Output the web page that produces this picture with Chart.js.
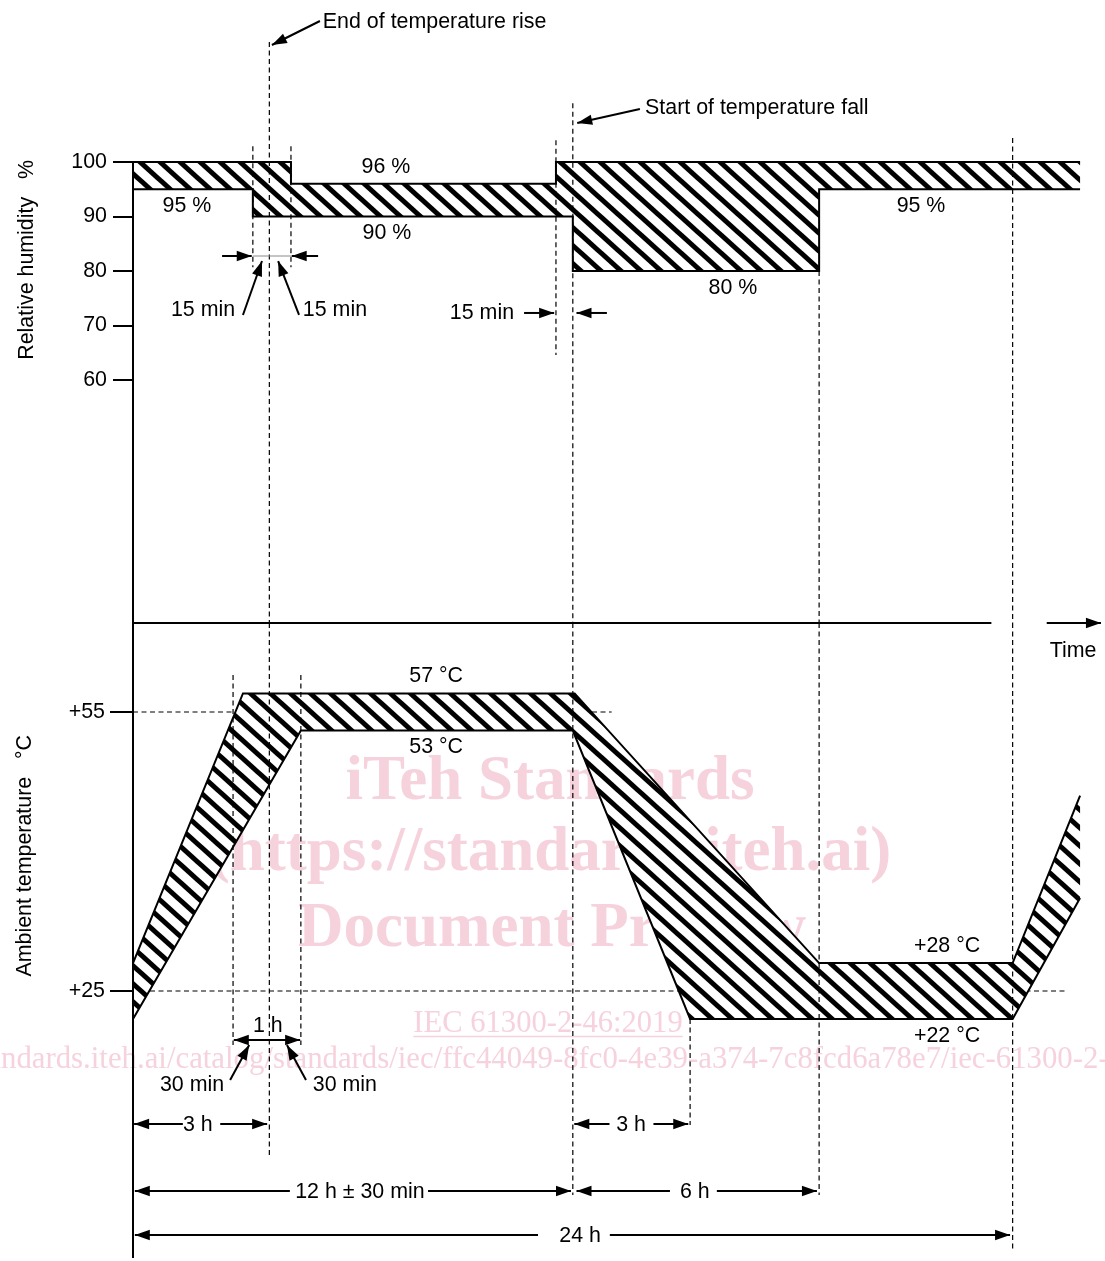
<!DOCTYPE html>
<html>
<head>
<meta charset="utf-8">
<title>Damp heat cycle</title>
<script src="https://cdn.jsdelivr.net/npm/chart.js@4.4.1/dist/chart.umd.min.js"></script>
<style>
  html, body { margin: 0; padding: 0; background: #fff; }
  canvas { display: block; }
</style>
</head>
<body>
<canvas id="cycle" width="1105" height="1261"></canvas>
<script>
// ---- axes -------------------------------------------------------------
const HOURS_MAX = 26.52;                 // time axis, hours
const RH_RANGE = [15.413, 129.725];      // relative humidity panel, %
const TEMP_RANGE = [-4.03, 64.57];       // temperature panel, °C
const RH_TICKS = [60, 70, 80, 90, 100];
const TEMP_TICKS = [25, 55];

// ---- tolerance bands [hour, value] -------------------------------------
const RH_UPPER = [[0, 100], [4.31, 100], [4.31, 96], [11.54, 96], [11.54, 100], [25.84, 100]];
const RH_LOWER = [[0, 95], [3.27, 95], [3.27, 90], [12, 90], [12, 80], [18.72, 80], [18.72, 95], [25.84, 95]];
const TEMP_UPPER = [[0, 28], [3, 57], [12.05, 57], [18.72, 28], [24, 28], [25.84, 46]];
const TEMP_LOWER = [[0, 22], [4.58, 53], [12, 53], [15.2, 22], [24, 22], [25.84, 35]];

// value labels on the bands: [value, hour, side (-1 above / +1 below)]
const RH_VALUE_LABELS = [[96, 6.9, -1], [95, 1.47, 1], [90, 6.93, 1], [80, 16.37, 1], [95, 21.5, 1]];
const TEMP_VALUE_LABELS = [[57, 8.27, -1], [53, 8.27, 1], [28, 22.21, -1], [22, 22.21, 1]];

// ---- dashed guide lines: [hour, from, to] ------------------------------
const RH_GUIDES = [[3.27, 102.9, 80.7], [4.31, 102.9, 80.7], [3.72, 122.0, 15.413],
                   [11.54, 104.0, 64.6], [12, 110.8, 15.413], [18.72, 80, 15.413], [24, 104.4, 15.413]];
const TEMP_GUIDES = [[3.72, 64.57, 7.37], [12, 64.57, 3.06], [18.72, 64.57, 3.06], [24, 64.57, -2.85],
                     [2.73, 58.98, 19.19], [4.58, 58.98, 19.19], [15.2, 22, 10.6]];
// horizontal reference levels: [value, from hour, to hour]
const TEMP_LEVELS = [[55, 0, 13.06], [25, 0, 25.51]];

// ---- axis lines --------------------------------------------------------
const RH_AXIS = [[0, 100], [0, 15.413]];
const TEMP_AXIS = [[0, 64.57], [0, -3.71]];
const TIME_LINE = [[0, 15.413], [23.42, 15.413]];

// ---- arrows: points in data units, head at 'end' or 'both' --------------
const RH_ARROWS = [
  [[[2.43, 82.75], [3.24, 82.75]], 'end'],
  [[[5.05, 82.75], [4.33, 82.75]], 'end'],
  [[[3.0, 71.93], [3.52, 81.83]], 'end'],
  [[[4.53, 71.93], [3.96, 81.83]], 'end'],
  [[[10.67, 72.3], [11.49, 72.3]], 'end'],
  [[[12.93, 72.3], [12.1, 72.3]], 'end'],
  [[[5.1, 125.87], [3.79, 121.47]], 'end'],
  [[[13.83, 109.72], [12.12, 107.16]], 'end'],
  [[[24.93, 15.413], [26.41, 15.413]], 'end']
];
const RH_WINDOW = [[3.27, 82.75], [4.31, 82.75]];
const TEMP_ARROWS = [
  [[[2.75, 19.73], [4.56, 19.73]], 'both'],
  [[[2.65, 15.43], [3.17, 19.19]], 'end'],
  [[[4.72, 15.43], [4.2, 19.19]], 'end'],
  [[[1.36, 10.7], [0.03, 10.7]], 'end'],
  [[[2.38, 10.7], [3.66, 10.7]], 'end'],
  [[[13.0, 10.7], [12.04, 10.7]], 'end'],
  [[[14.2, 10.7], [15.15, 10.7]], 'end'],
  [[[4.28, 3.49], [0.05, 3.49]], 'end'],
  [[[8.05, 3.49], [11.95, 3.49]], 'end'],
  [[[14.65, 3.49], [12.1, 3.49]], 'end'],
  [[[15.93, 3.49], [18.66, 3.49]], 'end'],
  [[[11.05, -1.24], [0.05, -1.24]], 'end'],
  [[[13.01, -1.24], [23.93, -1.24]], 'end']
];

// ---- free text: [text, axis, hour, value, align] ------------------------
const NOTES = [
  ['End of temperature rise', 'yH', 5.18, 125.69, 'left'],
  ['Start of temperature fall', 'yH', 13.97, 109.91, 'left'],
  ['15 min', 'yH', 1.91, 72.84, 'center'],
  ['15 min', 'yH', 5.51, 72.84, 'center'],
  ['15 min', 'yH', 9.52, 72.29, 'center'],
  ['Time', 'yH', 25.65, 10.28, 'center'],
  ['1 h', 'yT', 3.68, 21.24, 'center'],
  ['30 min', 'yT', 1.61, 14.89, 'center'],
  ['30 min', 'yT', 5.78, 14.89, 'center'],
  ['3 h', 'yT', 1.77, 10.59, 'center'],
  ['3 h', 'yT', 13.59, 10.59, 'center'],
  ['12 h ± 30 min', 'yT', 6.19, 3.39, 'center'],
  ['6 h', 'yT', 15.33, 3.39, 'center'],
  ['24 h', 'yT', 12.2, -1.34, 'center']
];

const FONT = '"Liberation Sans", Arial, Helvetica, sans-serif';
const TEXT_SIZE = 21.4;
Chart.defaults.font.family = FONT;
Chart.defaults.color = '#000';

// diagonal hatch used for the tolerance bands
function makeHatch() {
  const W = 20, H = 18;
  const tile = document.createElement('canvas');
  tile.width = W; tile.height = H;
  const g = tile.getContext('2d');
  g.fillStyle = '#fff';
  g.fillRect(0, 0, W, H);
  g.strokeStyle = '#000';
  g.lineWidth = 5;
  for (let k = -2; k <= 2; k++) {
    g.beginPath();
    g.moveTo(k * W - W, -H);
    g.lineTo(k * W + 2 * W, 2 * H);
    g.stroke();
  }
  return g.createPattern(tile, 'repeat');
}
const hatch = makeHatch();

const DASH = [5, 3.5];
const datasets = [];
const toXY = pts => pts.map(([x, y]) => ({ x, y }));
function addLine(points, axis, style) {
  datasets.push(Object.assign({
    type: 'line', data: toXY(points), yAxisID: axis,
    borderColor: '#000', borderWidth: 2, pointRadius: 0, pointHoverRadius: 0,
    fill: false, clip: false, tension: 0, order: 2
  }, style));
}

// bands: hatched area, then the two limit lines
addLine(RH_UPPER.concat(RH_LOWER.slice().reverse()), 'yH',
  { fill: 'shape', backgroundColor: hatch, borderWidth: 0, borderColor: 'rgba(0,0,0,0)', order: 3 });
addLine(TEMP_UPPER.concat(TEMP_LOWER.slice().reverse()), 'yT',
  { fill: 'shape', backgroundColor: hatch, borderWidth: 0, borderColor: 'rgba(0,0,0,0)', order: 3 });
addLine(RH_UPPER, 'yH', { order: 2 });
addLine(RH_LOWER, 'yH', { order: 2 });
addLine(TEMP_UPPER, 'yT', { order: 2 });
addLine(TEMP_LOWER, 'yT', { order: 2 });

// reference levels sit under the bands, time guides on top of them
TEMP_LEVELS.forEach(([v, a, b]) => addLine([[a, v], [b, v]], 'yT', { borderWidth: 1.2, borderDash: DASH, order: 4 }));
RH_GUIDES.forEach(([t, a, b]) => addLine([[t, a], [t, b]], 'yH', { borderWidth: 1.2, borderDash: DASH, order: 1 }));
TEMP_GUIDES.forEach(([t, a, b]) => addLine([[t, a], [t, b]], 'yT', { borderWidth: 1.2, borderDash: DASH, order: 1 }));

// axes drawn as lines
addLine(RH_AXIS, 'yH', { order: 0 });
addLine(TEMP_AXIS, 'yT', { order: 0 });
addLine(TIME_LINE, 'yH', { order: 0 });
addLine(RH_WINDOW, 'yH', { borderWidth: 1, borderColor: '#8a8a8a', order: 0 });

// arrows
RH_ARROWS.forEach(([pts, head]) => addLine(pts, 'yH', { order: 0, head }));
TEMP_ARROWS.forEach(([pts, head]) => addLine(pts, 'yT', { order: 0, head }));

// ---- plugins -----------------------------------------------------------
function drawHead(ctx, from, to) {
  const a = Math.atan2(to.y - from.y, to.x - from.x);
  ctx.save();
  ctx.translate(to.x, to.y);
  ctx.rotate(a);
  ctx.beginPath();
  ctx.moveTo(0, 0);
  ctx.lineTo(-15, -5.2);
  ctx.lineTo(-15, 5.2);
  ctx.closePath();
  ctx.fill();
  ctx.restore();
}

const arrowHeads = {
  id: 'arrowHeads',
  afterDatasetsDraw(chart) {
    const ctx = chart.ctx;
    ctx.save();
    ctx.fillStyle = '#000';
    chart.data.datasets.forEach((ds, i) => {
      if (!ds.head) return;
      const pts = chart.getDatasetMeta(i).data;
      const n = pts.length;
      drawHead(ctx, pts[n - 2], pts[n - 1]);
      if (ds.head === 'both') drawHead(ctx, pts[1], pts[0]);
    });
    ctx.restore();
  }
};

const labels = {
  id: 'labels',
  afterDatasetsDraw(chart) {
    const { ctx, scales } = chart;
    const x = scales.x;
    ctx.save();
    ctx.fillStyle = '#000';
    ctx.font = TEXT_SIZE + 'px ' + FONT;
    ctx.textBaseline = 'middle';

    NOTES.forEach(([text, axis, h, v, align]) => {
      ctx.textAlign = align;
      ctx.fillText(text, x.getPixelForValue(h), scales[axis].getPixelForValue(v));
    });

    ctx.textAlign = 'center';
    RH_VALUE_LABELS.forEach(([v, h, side]) => {
      ctx.fillText(v + ' %', x.getPixelForValue(h), scales.yH.getPixelForValue(v) + side * 17);
    });
    TEMP_VALUE_LABELS.forEach(([v, h, side]) => {
      const text = (v < 40 ? '+' : '') + v + ' °C';
      ctx.fillText(text, x.getPixelForValue(h), scales.yT.getPixelForValue(v) + side * 17);
    });

    // axis titles, rotated
    const titleX = 27;
    ctx.textAlign = 'right';
    ctx.save();
    ctx.translate(titleX, scales.yH.getPixelForValue(100) - 2);
    ctx.rotate(-Math.PI / 2);
    ctx.fillText('Relative humidity   %', 0, 0);
    ctx.restore();
    ctx.save();
    ctx.translate(titleX - 2, scales.yT.getPixelForValue(55) + 23);
    ctx.rotate(-Math.PI / 2);
    ctx.fillText('Ambient temperature   °C', 0, 0);
    ctx.restore();
    ctx.restore();
  }
};

const watermark = {
  id: 'watermark',
  beforeDatasetsDraw(chart) {
    const ctx = chart.ctx;
    ctx.save();
    ctx.fillStyle = 'rgb(246, 210, 220)';
    ctx.strokeStyle = 'rgb(246, 210, 220)';
    ctx.textBaseline = 'alphabetic';
    ctx.textAlign = 'center';
    ctx.font = 'bold 63px "Liberation Serif", "Times New Roman", serif';
    ctx.fillText('iTeh Standards', 550, 799);
    ctx.fillText('(https://standards.iteh.ai)', 550, 870);
    ctx.fillText('Document Preview', 552, 946);
    ctx.font = '30.6px "Liberation Serif", "Times New Roman", serif';
    const iec = 'IEC 61300-2-46:2019';
    ctx.fillText(iec, 548, 1032);
    const w = ctx.measureText(iec).width;
    ctx.lineWidth = 1.5;
    ctx.beginPath();
    ctx.moveTo(548 - w / 2, 1036.5);
    ctx.lineTo(548 + w / 2, 1036.5);
    ctx.stroke();
    ctx.font = '30.8px "Liberation Serif", "Times New Roman", serif';
    ctx.textAlign = 'left';
    const url = 'https://standards.iteh.ai/catalog/standards/iec/ffc44049-8fc0-4e39-a374-7c8fcd6a78e7/iec-61300-2-46-2019';
    const lead = ctx.measureText('https://sta').width;
    ctx.fillText(url, 1 - lead, 1068);
    ctx.restore();
  }
};

// ---- chart -------------------------------------------------------------
const tickFont = { size: TEXT_SIZE, family: FONT };
function fixWidth(s) { s.width = 133; s.paddingTop = 0; s.paddingBottom = 0; }

new Chart(document.getElementById('cycle'), {
  type: 'line',
  data: { datasets },
  plugins: [watermark, arrowHeads, labels],
  options: {
    responsive: false,
    animation: false,
    events: [],
    layout: { padding: 0 },
    plugins: { legend: { display: false }, tooltip: { enabled: false } },
    scales: {
      x: { type: 'linear', min: 0, max: HOURS_MAX, display: false },
      yH: {
        type: 'linear', position: 'left', stack: 'panels', stackWeight: 623, weight: 2,
        min: RH_RANGE[0], max: RH_RANGE[1],
        afterBuildTicks: s => { s.ticks = RH_TICKS.map(value => ({ value })); },
        afterFit: fixWidth,
        ticks: { autoSkip: false, padding: 6, color: '#000', font: tickFont, callback: v => String(v) },
        grid: { drawOnChartArea: false, drawTicks: true, tickLength: 20, color: '#000', lineWidth: 2 },
        border: { display: false }
      },
      yT: {
        type: 'linear', position: 'left', stack: 'panels', stackWeight: 638, weight: 1,
        min: TEMP_RANGE[0], max: TEMP_RANGE[1],
        afterBuildTicks: s => { s.ticks = TEMP_TICKS.map(value => ({ value })); },
        afterFit: fixWidth,
        ticks: { autoSkip: false, padding: 5, color: '#000', font: tickFont, callback: v => '+' + v },
        grid: { drawOnChartArea: false, drawTicks: true, tickLength: 23, color: '#000', lineWidth: 2 },
        border: { display: false }
      }
    }
  }
});
</script>
</body>
</html>
